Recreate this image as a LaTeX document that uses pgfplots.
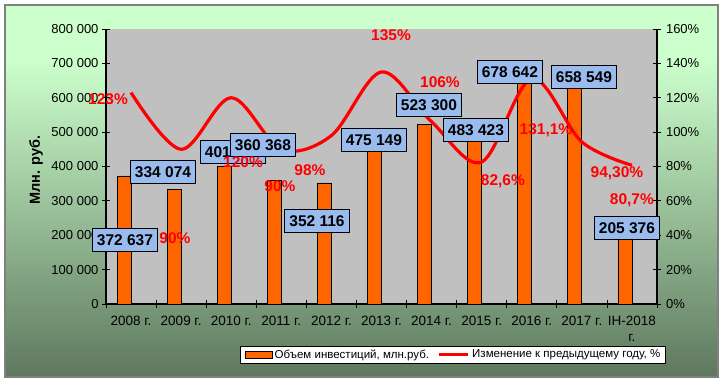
\documentclass[border=0pt]{standalone}
\usepackage{fontspec}
\setmainfont{Liberation Sans}
\usepackage{pgfplots}
\pgfplotsset{compat=1.18}
\usepackage{pgfplotstable}

\definecolor{bgtop}{RGB}{204,255,204}
\definecolor{bgmid}{RGB}{160,200,160}
\definecolor{bgbot}{RGB}{94,120,94}
\definecolor{plotbg}{RGB}{192,192,192}
\definecolor{barorange}{RGB}{255,102,0}
\definecolor{boxblue}{RGB}{153,187,238}
\definecolor{framegray}{RGB}{128,128,128}
\definecolor{pctred}{RGB}{255,0,0}

\pgfdeclareverticalshading{chartbg}{100bp}{color(0bp)=(bgbot); color(25bp)=(bgbot); color(50bp)=(bgmid); color(67.6bp)=(bgtop); color(100bp)=(bgtop)}

\pgfplotstableread[col sep=semicolon]{
x;inv
0;372637
1;334074
2;401400
3;360368
4;352116
5;475149
6;523300
7;483423
8;678642
9;658549
10;205376
}\invest

\pgfplotstableread[col sep=semicolon]{
x;pct
0;123
1;90
2;120
3;90
4;98
5;135
6;106
7;82.6
8;131.1
9;94.3
10;80.7
}\change

\pgfplotstableread[col sep=semicolon]{
x;y;label
-0.121;37.24;372 637
0.638;76.8;334 074
2.035;88.44;401 400
2.634;92.51;360 368
3.712;48.29;352 116
4.849;95.42;475 149
5.947;115.78;523 300
6.885;101.24;483 423
7.564;134.98;678 642
9.041;132.07;658 549
9.899;44.22;205 376
}\barlabels

\pgfplotstableread[col sep=semicolon]{
x;y;label
-0.46;119.3;123
0.877;38.4;90
2.235;82.6;120
2.973;68.7;90
3.572;78.0;98
5.189;156.5;135
6.167;129.2;106
7.424;71.6;82,6
8.283;101.2;131,1
9.70;76.2;94,30
9.999;60.5;80,7
}\pctlabels

\begin{document}
\begin{tikzpicture}
\useasboundingbox (0bp,0bp) rectangle (724bp,381bp);
\shade[shading=chartbg] (5bp,4bp) rectangle (718bp,376bp);
\draw[framegray, line width=1.5bp] (5bp,4bp) rectangle (718bp,376bp);

\begin{axis}[
  at={(106bp,77bp)}, anchor=south west,
  width=551bp, height=275bp, scale only axis,
  xmin=-0.5, xmax=10.5, ymin=0, ymax=800000,
  axis x line*=bottom, axis y line*=left,
  axis line style={-, black, line width=1.2bp},
  axis background/.style={fill=plotbg},
  xtick={-0.5,0.5,...,10.5},
  x tick label as interval,
  xticklabels={2008 г.,2009 г.,2010 г.,2011 г.,2012 г.,2013 г.,2014 г.,2015 г.,2016 г.,2017 г.,{IH-2018\\г.},{}},
  x tick label style={align=center, yshift=-5bp, font=\fontsize{13.5bp}{16bp}\selectfont},
  ytick={0,100000,...,800000},
  yticklabels={0,{100 000},{200 000},{300 000},{400 000},{500 000},{600 000},{700 000},{800 000}},
  y tick label style={font=\fontsize{13bp}{15bp}\selectfont},
  scaled y ticks=false,
  tick align=center, major tick length=8bp,
  tick style={black, line width=0.8bp},
  ylabel={Млн. руб.},
  ylabel style={at={(axis description cs:-0.127,0.487)}, anchor=center, font=\fontsize{14.5bp}{16bp}\selectfont\bfseries},
  clip=false,
]
\addplot[ybar, bar width=0.28, bar shift=-0.14, fill=barorange, draw=black, line width=0.8bp] table[x=x,y=inv]{\invest};
\end{axis}

\begin{axis}[
  at={(106bp,77bp)}, anchor=south west,
  width=551bp, height=275bp, scale only axis,
  xmin=-0.5, xmax=10.5, ymin=0, ymax=160,
  axis x line=none, axis y line*=right,
  axis line style={-, black, line width=1.2bp},
  ytick={0,20,...,160},
  /pgf/number format/assume math mode=true,
  yticklabel={\pgfmathprintnumber{\tick}\%},
  y tick label style={font=\fontsize{13bp}{15bp}\selectfont, xshift=1.5bp},
  tick align=center, major tick length=8bp,
  tick style={black, line width=0.8bp},
  clip=false,
  legend columns=2,
  legend style={at={(0.629,-0.184)}, anchor=center, draw=black, fill=white, line width=0.8bp,
    font=\fontsize{11.5bp}{13bp}\selectfont, inner ysep=1.5bp, inner xsep=5bp,
    /tikz/every even column/.append style={column sep=10bp}},
  legend cell align=left,
]
\addlegendimage{legend image code/.code={\draw[fill=barorange,draw=black,line width=0.8bp] (0bp,-3.5bp) rectangle (27bp,3.5bp);}}
\addlegendentry{\makebox[151bp][l]{Объем инвестиций, млн.руб.}}
\addplot[pctred, line width=3.2bp, smooth, tension=0.55, no markers,
  legend image code/.code={\draw[pctred,line width=3.5bp] (0bp,0bp) -- (29bp,0bp);}]
  table[x=x,y=pct]{\change};
\addlegendentry{\makebox[186bp][l]{Изменение к предыдущему году, \%}}

\addplot[forget plot, only marks, mark=none, point meta=explicit symbolic,
  nodes near coords, nodes near coords align=center,
  every node near coord/.style={anchor=center, fill=boxblue, draw=black, line width=0.8bp,
    font=\fontsize{15.5bp}{17bp}\selectfont\bfseries, text=black,
    text height=11.2bp, text depth=0bp, inner xsep=4.5bp, inner ysep=5.8bp}]
  table[x=x,y=y,meta=label]{\barlabels};

\addplot[forget plot, only marks, mark=none, point meta=explicit symbolic,
  nodes near coords={\pgfplotspointmeta\%}, nodes near coords align=center,
  every node near coord/.style={anchor=center, text=pctred,
    font=\fontsize{15.5bp}{17bp}\selectfont\bfseries, inner sep=0bp}]
  table[x=x,y=y,meta=label]{\pctlabels};
\end{axis}
\end{tikzpicture}
\end{document}
